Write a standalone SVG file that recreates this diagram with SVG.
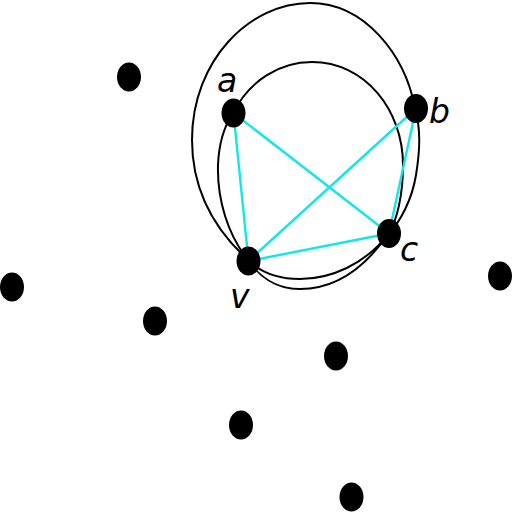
<svg xmlns="http://www.w3.org/2000/svg" width="512" height="512" viewBox="0 0 512 512">
<style>
.dot{fill:#000}
.loop{fill:none;stroke:#000;stroke-width:2}
.edge{stroke:#14e4ec;stroke-width:2.4;fill:none}
.lbl{font-family:"DejaVu Sans",sans-serif;font-style:oblique;font-size:33px;fill:#000}
</style>
<rect width="512" height="512" fill="#fff"/>
<g id="connectors">
<path class="loop" d="M233,113 C250,80 280,62 312,62 C365,62 403,110 403,165 C403,195 397,220 389,233 C365,265 330,279 300,279 C275,279 258,270 248,260 C228,235 217,200 218,165 C219,140 225,125 233,113 Z"/>
<path class="loop" d="M248,260 C215,230 192,190 192,140 C192,60 250,3 310,3 C365,3 405,55 415,108 C421,130 420,150 416,175 C412,200 400,222 389,233 C365,268 335,289 300,289 C275,289 258,275 248,260 Z"/>
<line class="edge" x1="233.5" y1="113" x2="248.5" y2="261"/>
<line class="edge" x1="233.5" y1="113" x2="389" y2="233.5"/>
<line class="edge" x1="416" y1="108.5" x2="248.5" y2="261"/>
<line class="edge" x1="416" y1="108.5" x2="389" y2="233.5"/>
<line class="edge" x1="389" y1="233.5" x2="248.5" y2="261"/>
</g>
<g id="node-a"><ellipse class="dot" cx="233.5" cy="113" rx="12" ry="14.5"/><text class="lbl" x="217" y="92">a</text></g>
<g id="node-b"><ellipse class="dot" cx="416" cy="108.5" rx="12" ry="14.5"/><text class="lbl" x="429" y="123">b</text></g>
<g id="node-c"><ellipse class="dot" cx="389" cy="233.5" rx="12" ry="14.5"/><text class="lbl" x="400" y="261">c</text></g>
<g id="node-v"><ellipse class="dot" cx="248.5" cy="261" rx="12" ry="14.5"/><text class="lbl" x="230" y="308">v</text></g>
<g id="node-1"><ellipse class="dot" cx="129" cy="77" rx="12" ry="14.5"/></g>
<g id="node-2"><ellipse class="dot" cx="12" cy="287" rx="12" ry="14.5"/></g>
<g id="node-3"><ellipse class="dot" cx="155" cy="321" rx="12" ry="14.5"/></g>
<g id="node-4"><ellipse class="dot" cx="336" cy="356" rx="12" ry="14.5"/></g>
<g id="node-5"><ellipse class="dot" cx="241" cy="425" rx="12" ry="14.5"/></g>
<g id="node-6"><ellipse class="dot" cx="351.5" cy="497" rx="12" ry="14.5"/></g>
<g id="node-7"><ellipse class="dot" cx="500" cy="276" rx="12" ry="14.5"/></g>
</svg>
